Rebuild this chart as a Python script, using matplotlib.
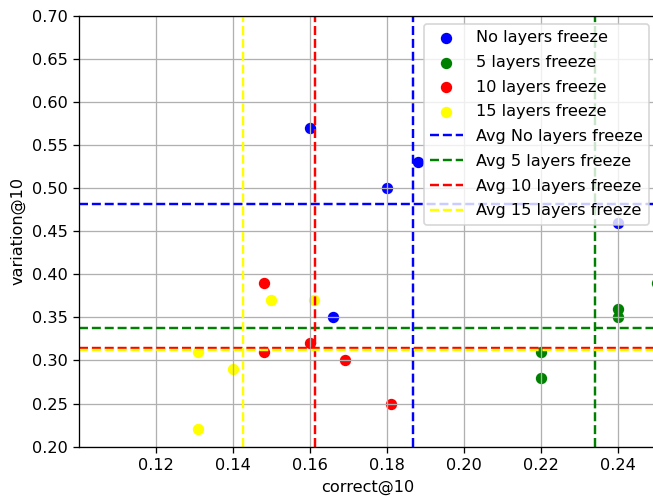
import matplotlib
matplotlib.use("Agg")
import matplotlib.pyplot as plt
from matplotlib.ticker import MultipleLocator
import numpy as np

# correct@10 / variation@10 per run
labels = ["No layers freeze", "5 layers freeze", "10 layers freeze", "15 layers freeze"]
colors = ["blue", "green", "red", "yellow"]

correct_0 = [0.16, 0.18, 0.188, 0.166, 0.24]
variation_0 = [0.57, 0.50, 0.53, 0.35, 0.46]

correct_5 = [0.22, 0.22, 0.24, 0.24, 0.25]
variation_5 = [0.31, 0.28, 0.36, 0.35, 0.39]

correct_10 = [0.148, 0.148, 0.16, 0.169, 0.181]
variation_10 = [0.39, 0.31, 0.32, 0.30, 0.25]

correct_15 = [0.131, 0.131, 0.14, 0.15, 0.161]
variation_15 = [0.31, 0.22, 0.29, 0.37, 0.37]

correct = [correct_0, correct_5, correct_10, correct_15]
variation = [variation_0, variation_5, variation_10, variation_15]

dpi = 116.6
fig = plt.figure(figsize=(653 / dpi, 498 / dpi), dpi=dpi)
ax = fig.add_axes([79.3 / 653, 51.3 / 498, 577.7 / 653, 431 / 498])

for x, y, c, lab in zip(correct, variation, colors, labels):
    ax.scatter(x, y, c=c, label=lab)

for x, y, c, lab in zip(correct, variation, colors, labels):
    ax.axhline(np.mean(y), color=c, linestyle="--", label="Avg " + lab)
    ax.axvline(np.mean(x), color=c, linestyle="--")

ax.set_xlim(0.1002, 0.25)
ax.set_ylim(0.2, 0.7)
ax.yaxis.set_major_locator(MultipleLocator(0.05))
ax.yaxis.set_major_formatter("{x:.2f}")
ax.set_xlabel("correct@10")
ax.set_ylabel("variation@10")
ax.grid(True)
ax.legend(loc="upper right", labelspacing=0.6)

fig.savefig("out.png", dpi=dpi)
